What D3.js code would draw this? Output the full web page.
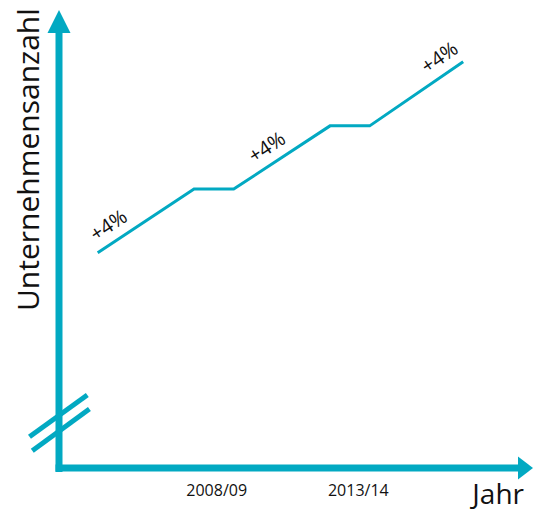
<!DOCTYPE html>
<html>
<head>
<meta charset="utf-8">
<script src="https://cdn.jsdelivr.net/npm/d3@7"></script>
<style>
  body { margin: 0; background: #fff; }
  text { font-family: "Open Sans", "Noto Sans", sans-serif; fill: #111; }
</style>
</head>
<body>
<div id="chart"></div>
<script>
// schematic values (year, relative company count)
var years = [2004.3, 2007.7, 2009.1, 2012.5, 2013.9, 2017.2];
var counts = [47.0, 60.9, 60.9, 74.7, 74.7, 88.7];
var tickYears = [2008.5, 2013.5];
var tickLabels = ["2008/09", "2013/14"];
var growthLabels = ["+4%", "+4%", "+4%"];
var growthSegments = [0, 2, 4];          // index of the rising segment start
var growthAlong = [0.21, 0.44, 0.85];    // where along the segment the label sits

var width = 533, height = 512;
var color = "#02a9c2";
var axisX = 59, axisY = 468;

var x = d3.scaleLinear().domain([2000, 2010]).range([-24.1, 259.2]);
var y = d3.scaleLinear().domain([0, 100]).range([axisY, 10]);

var svg = d3.select("#chart").append("svg")
  .attr("width", width)
  .attr("height", height);

// axes
svg.append("line")
  .attr("x1", axisX).attr("x2", axisX)
  .attr("y1", axisY + 4).attr("y2", 30)
  .attr("stroke", color).attr("stroke-width", 7);
svg.append("path")
  .attr("d", "M" + axisX + ",10L" + (axisX + 11.5) + ",33L" + (axisX - 11.5) + ",33Z")
  .attr("fill", color);

svg.append("line")
  .attr("x1", axisX - 3.5).attr("x2", 520)
  .attr("y1", axisY).attr("y2", axisY)
  .attr("stroke", color).attr("stroke-width", 7);
svg.append("path")
  .attr("d", "M533," + axisY + "L518," + (axisY - 11.5) + "L518," + (axisY + 11.5) + "Z")
  .attr("fill", color);

// axis break
[0, 14].forEach(function (dy) {
  svg.append("line")
    .attr("x1", 29.5 + dy * 0.2).attr("y1", 436.7 + dy)
    .attr("x2", 87.3 + dy * 0.15).attr("y2", 395 + dy)
    .attr("stroke", color).attr("stroke-width", 5);
});

// line
var line = d3.line()
  .x(function (d, i) { return x(years[i]); })
  .y(function (d) { return d; });

svg.append("path")
  .datum(counts.map(function (c) { return y(c); }))
  .attr("d", line)
  .attr("fill", "none")
  .attr("stroke", color)
  .attr("stroke-width", 3);

// growth labels along rising segments
growthLabels.forEach(function (lab, k) {
  var i = growthSegments[k];
  var x0 = x(years[i]), y0 = y(counts[i]);
  var x1 = x(years[i + 1]), y1 = y(counts[i + 1]);
  var t = growthAlong[k];
  var px = x0 + (x1 - x0) * t, py = y0 + (y1 - y0) * t;
  var ang = Math.atan2(y1 - y0, x1 - x0) * 180 / Math.PI;
  svg.append("text")
    .attr("transform", "translate(" + px + "," + py + ")rotate(" + ang + ")")
    .attr("text-anchor", "middle")
    .attr("dy", "-0.5em")
    .style("font-size", "20px")
    .text(lab);
});

// ticks
svg.selectAll(".tick")
  .data(tickYears)
  .enter().append("text")
  .attr("class", "tick")
  .attr("x", function (d) { return x(d); })
  .attr("y", 496)
  .attr("text-anchor", "middle")
  .style("font-size", "16px")
  .text(function (d, i) { return tickLabels[i]; });

// axis titles
svg.append("text")
  .attr("x", 524).attr("y", 504)
  .attr("text-anchor", "end")
  .style("font-size", "28px")
  .text("Jahr");

svg.append("text")
  .attr("transform", "translate(39,311)rotate(-90)")
  .attr("text-anchor", "start")
  .style("font-size", "30px")
  .text("Unternehmensanzahl");
</script>
</body>
</html>
